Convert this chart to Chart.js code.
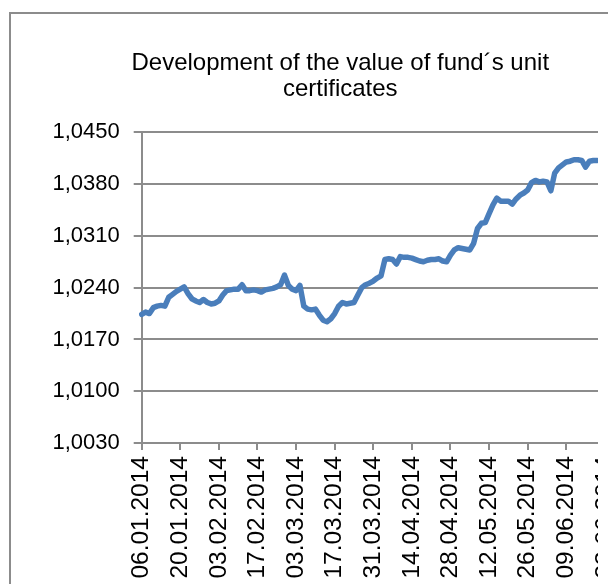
<!DOCTYPE html>
<html><head><meta charset="utf-8">
<script src="https://cdn.jsdelivr.net/npm/chart.js@4.4.1/dist/chart.umd.min.js"></script>
<style>
html,body{margin:0;padding:0;background:#fff;width:608px;height:584px;overflow:hidden;position:relative}
#frame{position:absolute;left:9px;top:12px;width:700px;height:700px;border:2px solid #8c8c8c;box-sizing:border-box}
#clip{position:absolute;left:10px;top:14px;width:588px;height:570px;overflow:hidden}
canvas{display:block}
</style></head><body>
<div id="frame"></div>
<div id="clip"><canvas id="c" width="700" height="620" style="width:700px;height:620px"></canvas></div>
<script>
const chartTitle = ['Development of the value of fund\u00b4s unit', 'certificates'];
const firstDay = '2014-01-06';
const dayCount = 138;
const tickLabels = ['06.01.2014','20.01.2014','03.02.2014','17.02.2014','03.03.2014','17.03.2014','31.03.2014','14.04.2014','28.04.2014','12.05.2014','26.05.2014','09.06.2014','23.06.2014'];
const fundValues = [
1.0204,1.0207,1.0205,1.0213,1.0215,1.0216,1.0215,1.0227,1.0231,1.0235,
1.0238,1.0241,1.0232,1.0225,1.0222,1.0220,1.0224,1.0220,1.0218,1.0219,
1.0222,1.0230,1.0236,1.0237,1.0238,1.0238,1.0244,1.0236,1.0236,1.0237,
1.0236,1.0234,1.0237,1.0238,1.0239,1.0241,1.0244,1.0257,1.0243,1.0238,
1.0236,1.0243,1.0215,1.0211,1.0210,1.0211,1.0203,1.0196,1.0194,1.0198,
1.0205,1.0215,1.0220,1.0218,1.0219,1.0220,1.0230,1.0240,1.0244,1.0246,
1.0249,1.0253,1.0256,1.0278,1.0279,1.0278,1.0272,1.0282,1.0281,1.0281,
1.0280,1.0278,1.0276,1.0275,1.0277,1.0278,1.0278,1.0279,1.0276,1.0275,
1.0284,1.0291,1.0294,1.0293,1.0292,1.0291,1.0300,1.0320,1.0327,1.0328,
1.0340,1.0352,1.0361,1.0357,1.0357,1.0357,1.0353,1.0360,1.0365,1.0368,
1.0372,1.0382,1.0385,1.0383,1.0384,1.0383,1.0371,1.0395,1.0402,1.0406,
1.0410,1.0411,1.0413,1.0413,1.0412,1.0403,1.0411,1.0412,1.0412
];
const yMin = 1.0030, yMax = 1.0450, yStep = 0.0070;

function businessDays(startIso, count){
  const out = [];
  const d = new Date(startIso + 'T00:00:00Z');
  while (out.length < count){
    const wd = d.getUTCDay();
    if (wd !== 0 && wd !== 6){
      out.push(String(d.getUTCDate()).padStart(2,'0') + '.' + String(d.getUTCMonth()+1).padStart(2,'0') + '.' + d.getUTCFullYear());
    }
    d.setUTCDate(d.getUTCDate() + 1);
  }
  return out;
}
const dates = businessDays(firstDay, dayCount);

const FONT = "'Liberation Sans', Arial, sans-serif";
const GRID = '#8c8c8c';
const CH = 620;

new Chart(document.getElementById('c').getContext('2d'), {
  type: 'line',
  data: {
    labels: dates,
    datasets: [{
      data: fundValues,
      borderColor: '#4a7ebb',
      borderWidth: 5.5,
      pointRadius: 0,
      tension: 0,
      borderJoinStyle: 'round',
      borderCapStyle: 'round',
      fill: false
    }]
  },
  options: {
    responsive: false,
    animation: false,
    devicePixelRatio: 1,
    layout: { padding: { left: 0, right: 39.5, top: 0, bottom: 0 } },
    plugins: {
      legend: { display: false },
      tooltip: { enabled: false },
      title: {
        display: true,
        text: chartTitle,
        color: '#000',
        font: { family: FONT, size: 24, weight: 'normal', lineHeight: 1.08 },
        padding: { top: 36, bottom: 30.5 }
      }
    },
    scales: {
      x: {
        grid: { drawOnChartArea: false, drawTicks: true, tickLength: 7, color: GRID, lineWidth: 2 },
        border: { color: GRID, width: 2 },
        ticks: {
          autoSkip: false, maxRotation: 90, minRotation: 90, padding: 6,
          color: '#000', font: { family: FONT, size: 24.5 },
          callback(v) { const l = this.getLabelForValue(v); return tickLabels.includes(l) ? l : null; }
        },
        afterFit(s) { s.height = CH - 429; }
      },
      y: {
        min: yMin, max: yMax,
        ticks: {
          stepSize: yStep, padding: 14, color: '#000', font: { family: FONT, size: 22 },
          callback: v => v.toFixed(4).replace('.', ',')
        },
        grid: { color: GRID, lineWidth: 2, tickLength: 8 },
        border: { color: GRID, width: 2 },
        afterFit(s) { s.width = 131.7; }
      }
    }
  }
});
</script>
</body></html>
